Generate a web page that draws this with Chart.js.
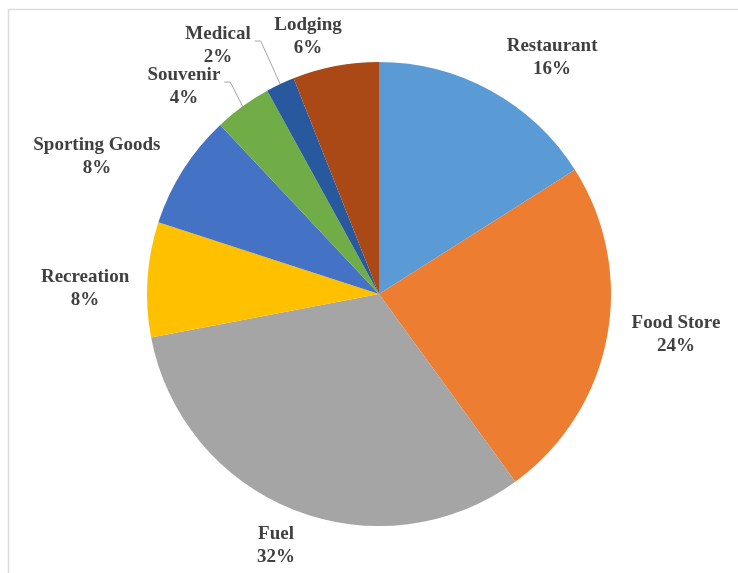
<!DOCTYPE html>
<html>
<head>
<meta charset="utf-8">
<script src="https://cdn.jsdelivr.net/npm/chart.js@4/dist/chart.umd.min.js"></script>
<style>
  html, body { margin: 0; padding: 0; background: #ffffff; }
  #wrap { width: 738px; height: 573px; position: relative; }
</style>
</head>
<body>
<div id="wrap"><canvas id="c" width="738" height="573"></canvas></div>
<script>
// ---- data ----
const categories = ["Restaurant", "Food Store", "Fuel", "Recreation", "Sporting Goods", "Souvenir", "Medical", "Lodging"];
const shares = [16, 24, 32, 8, 8, 4, 2, 6];
const sliceColors = ["#5B9BD5", "#ED7D31", "#A5A5A5", "#FFC000", "#4472C4", "#70AD47", "#28599E", "#AA4816"];

// ---- label layout (block centre, in units of pie radius from pie centre) ----
const labelOffsets = [
  [0.746, -1.019],
  [1.280, 0.177],
  [-0.444, 1.084],
  [-1.267, -0.024],
  [-1.216, -0.593],
  [-0.841, -0.894],
  [-0.694, -1.071],
  [-0.306, -1.110]
];
const hasLeader = [false, false, false, false, false, true, true, false];

const frameAndLabels = {
  id: 'frameAndLabels',
  beforeDraw(chart) {
    const ctx = chart.ctx;
    ctx.save();
    ctx.fillStyle = '#ffffff';
    ctx.fillRect(0, 0, chart.width, chart.height);
    ctx.strokeStyle = '#dcdcdc';
    ctx.lineWidth = 1.5;
    ctx.beginPath();
    ctx.moveTo(8.5, chart.height);
    ctx.lineTo(8.5, 9.5);
    ctx.lineTo(chart.width, 9.5);
    ctx.stroke();
    ctx.restore();
  },
  afterDraw(chart) {
    const ctx = chart.ctx;
    const meta = chart.getDatasetMeta(0);
    const a0 = meta.data[0];
    const cx = a0.x, cy = a0.y, r = a0.outerRadius;
    ctx.save();
    ctx.font = 'bold 19px "Liberation Serif", "Times New Roman", serif';
    ctx.fillStyle = '#404040';
    ctx.textAlign = 'center';
    ctx.textBaseline = 'middle';
    const lh = 23;
    categories.forEach((name, i) => {
      const px = cx + labelOffsets[i][0] * r;
      const py = cy + labelOffsets[i][1] * r;
      ctx.fillText(name, px, py - lh / 2);
      ctx.fillText(shares[i] + '%', px, py + lh / 2);
      if (hasLeader[i]) {
        const arc = meta.data[i];
        const mid = (arc.startAngle + arc.endAngle) / 2;
        const ex = cx + r * Math.cos(mid);
        const ey = cy + r * Math.sin(mid);
        const w = ctx.measureText(name).width;
        const sx = px + w / 2 + 4;
        const sy = py - 4.5;
        ctx.save();
        ctx.strokeStyle = '#a6a6a6';
        ctx.lineWidth = 1;
        ctx.beginPath();
        ctx.moveTo(sx, sy);
        ctx.lineTo(sx + 6, sy);
        ctx.lineTo(ex, ey);
        ctx.stroke();
        ctx.restore();
      }
    });
    ctx.restore();
  }
};

new Chart(document.getElementById('c'), {
  type: 'pie',
  data: {
    labels: categories,
    datasets: [{
      data: shares,
      backgroundColor: sliceColors,
      borderWidth: 0
    }]
  },
  options: {
    responsive: false,
    animation: false,
    layout: { padding: { left: 147, right: 127, top: 62, bottom: 47 } },
    plugins: {
      legend: { display: false },
      tooltip: { enabled: false }
    }
  },
  plugins: [frameAndLabels]
});
</script>
</body>
</html>
